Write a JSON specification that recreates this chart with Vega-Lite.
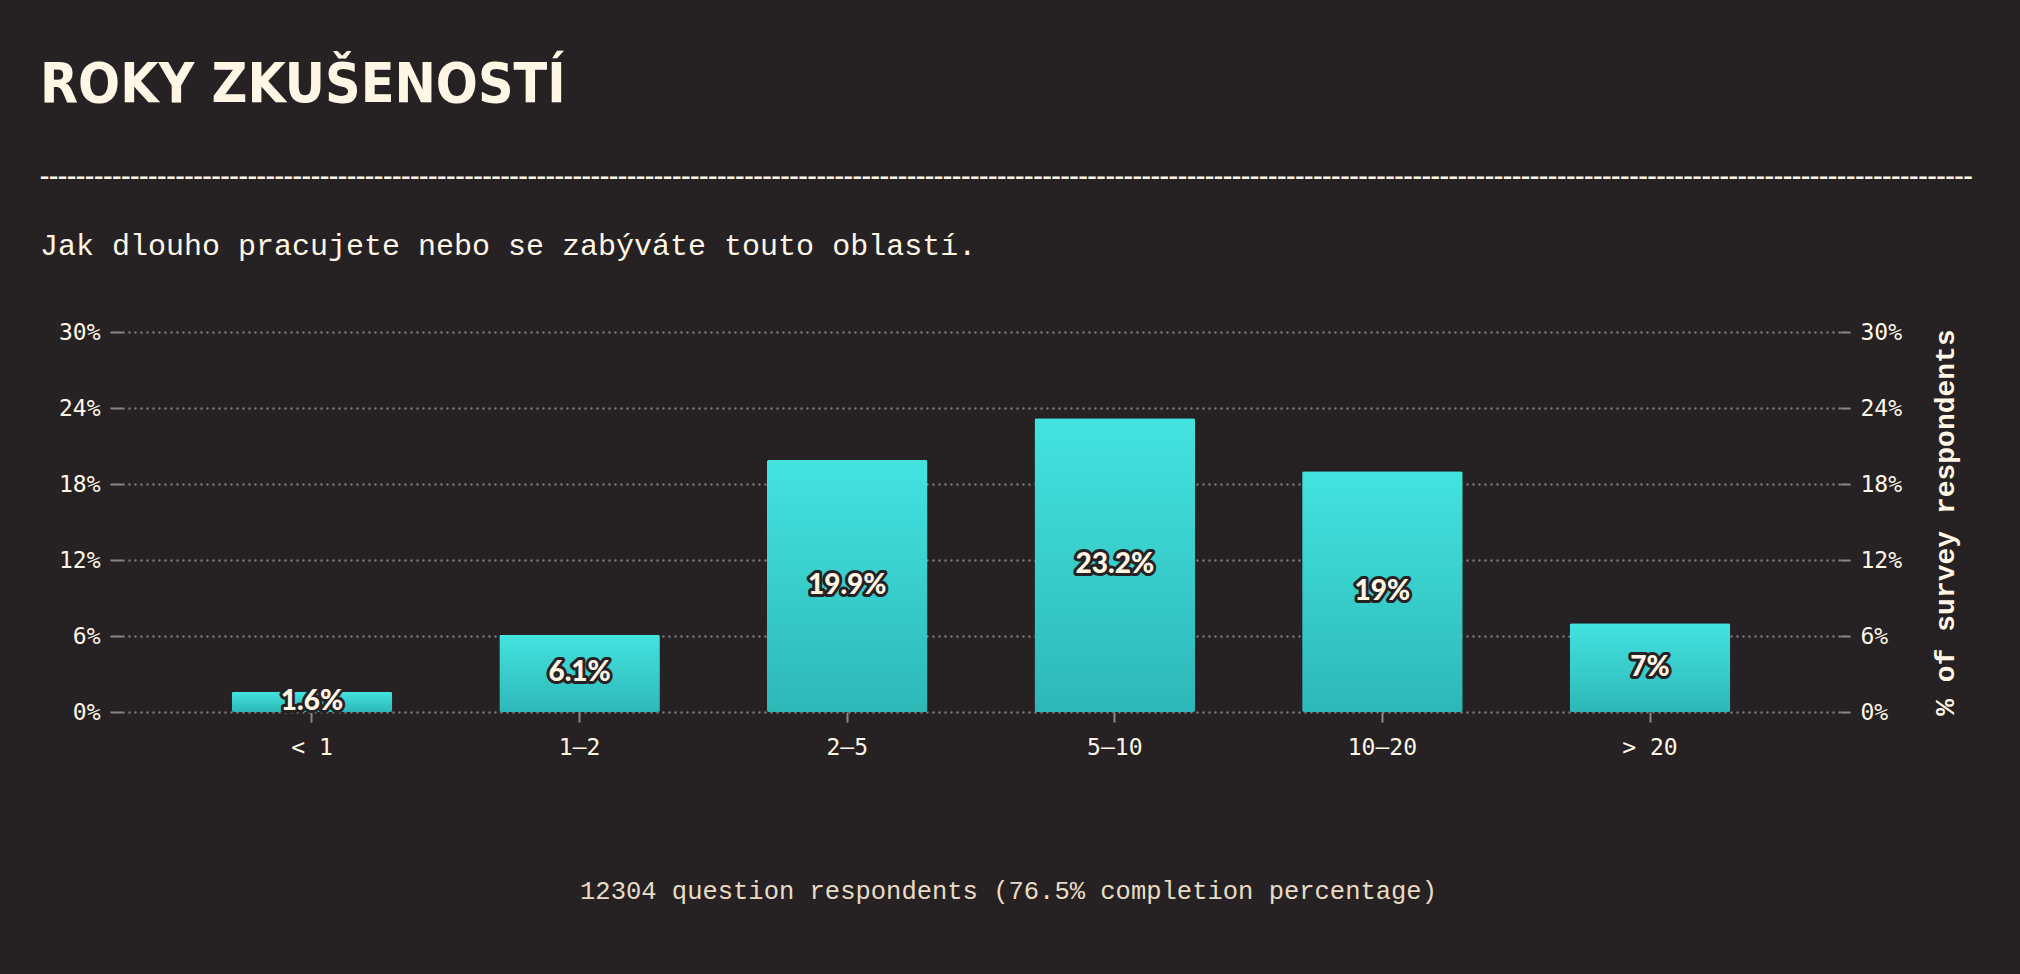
{
  "$schema": "https://vega.github.io/schema/vega-lite/v6.json",
  "width": 1718,
  "height": 380,
  "autosize": {"type": "none"},
  "padding": {"left": 122, "top": 332, "right": 180, "bottom": 262},
  "background": "#262224",
  "config": {"view": {"stroke": null}},
  "title": {
    "text": "ROKY ZKUŠENOSTÍ",
    "subtitle": ["╌╌╌╌╌╌╌╌╌╌╌╌╌╌╌╌╌╌╌╌╌╌╌╌╌╌╌╌╌╌╌╌╌╌╌╌╌╌╌╌╌╌╌╌╌╌╌╌╌╌╌╌╌╌╌╌╌╌╌╌╌╌╌╌╌╌╌╌╌╌╌╌╌╌╌╌╌╌╌╌╌╌╌╌╌╌╌╌╌╌╌╌╌╌╌╌╌╌╌╌╌╌╌╌╌╌╌", "Jak dlouho pracujete nebo se zabýváte touto oblastí."],
    "anchor": "start",
    "frame": "group",
    "dx": -82,
    "font": "DejaVu Sans Condensed, DejaVu Sans",
    "fontSize": 55,
    "fontWeight": "bold",
    "color": "#fff6e6",
    "subtitleFont": "Liberation Mono, DejaVu Sans Mono",
    "subtitleFontSize": 30,
    "subtitleColor": "#fff6e6",
    "subtitleLineHeight": 67,
    "subtitlePadding": 50,
    "offset": 59
  },
  "data": {
    "values": [
      {"years": "< 1", "share": 0.016},
      {"years": "1–2", "share": 0.061},
      {"years": "2–5", "share": 0.199},
      {"years": "5–10", "share": 0.232},
      {"years": "10–20", "share": 0.19},
      {"years": "> 20", "share": 0.07}
    ]
  },
  "encoding": {
    "x": {
      "field": "years",
      "type": "nominal",
      "sort": null,
      "scale": {"paddingInner": 0.4, "paddingOuter": 0.41},
      "axis": {
        "title": "12304 question respondents (76.5% completion percentage)",
        "titleFont": "Liberation Mono",
        "titleFontSize": 25.5,
        "titleFontWeight": "normal",
        "titleColor": "#e8dcc6",
        "titlePadding": 119,
        "titleX": 886,
        "titleAlign": "center",
        "labelAngle": 0,
        "labelFont": "DejaVu Sans Mono",
        "labelFontSize": 23,
        "labelColor": "#fff6e6",
        "labelPadding": 14,
        "tickColor": "#8a8788",
        "tickSize": 10,
        "tickWidth": 2,
        "domain": false,
        "grid": false
      }
    }
  },
  "layer": [
    {
      "mark": {
        "type": "bar",
        "cornerRadius": 2,
        "color": {
          "gradient": "linear",
          "x1": 0, "y1": 0, "x2": 0, "y2": 1,
          "stops": [
            {"offset": 0, "color": "#43e3e0"},
            {"offset": 1, "color": "#2db8b7"}
          ]
        }
      },
      "encoding": {
        "y": {
          "field": "share",
          "type": "quantitative",
          "scale": {"domain": [0, 0.3]},
          "axis": {
            "orient": "left",
            "title": null,
            "values": [0, 0.06, 0.12, 0.18, 0.24, 0.3],
            "format": ".0%",
            "labelFont": "DejaVu Sans Mono",
            "labelFontSize": 23,
            "labelColor": "#fff6e6",
            "labelPadding": 10,
            "tickColor": "#8a8788",
            "tickSize": 12,
            "tickWidth": 2,
            "domain": false,
            "grid": true,
            "gridColor": "#8a8788",
            "gridDash": [2, 4],
            "gridWidth": 2
          }
        }
      }
    },
    {
      "transform": [{"calculate": "datum.share / 2", "as": "mid"}],
      "mark": {
        "type": "text",
        "font": "Lato",
        "fontWeight": 900,
        "fontSize": 28,
        "color": "#262224",
        "stroke": "#262224",
        "strokeWidth": 6,
        "strokeJoin": "round",
        "baseline": "middle"
      },
      "encoding": {
        "y": {
          "field": "mid",
          "type": "quantitative",
          "scale": {"domain": [0, 0.3]},
          "axis": {
            "orient": "right",
            "title": "% of survey respondents",
            "titleFont": "Liberation Mono",
            "titleFontSize": 28,
            "titleFontWeight": "bold",
            "titleColor": "#fff6e6",
            "titleAngle": 270,
            "titlePadding": 58,
            "values": [0, 0.06, 0.12, 0.18, 0.24, 0.3],
            "format": ".0%",
            "labelFont": "DejaVu Sans Mono",
            "labelFontSize": 23,
            "labelColor": "#fff6e6",
            "labelPadding": 10,
            "tickColor": "#8a8788",
            "tickSize": 10,
            "tickWidth": 2,
            "domain": false,
            "grid": false
          }
        },
        "text": {"field": "share", "type": "quantitative", "format": ".3~%"}
      }
    },
    {
      "transform": [{"calculate": "datum.share / 2", "as": "mid"}],
      "mark": {
        "type": "text",
        "font": "Lato",
        "fontWeight": 900,
        "fontSize": 28,
        "color": "#fff6e6",
        "baseline": "middle"
      },
      "encoding": {
        "y": {"field": "mid", "type": "quantitative", "scale": {"domain": [0, 0.3]}, "axis": null},
        "text": {"field": "share", "type": "quantitative", "format": ".3~%"}
      }
    }
  ],
  "resolve": {"axis": {"y": "independent"}}
}
